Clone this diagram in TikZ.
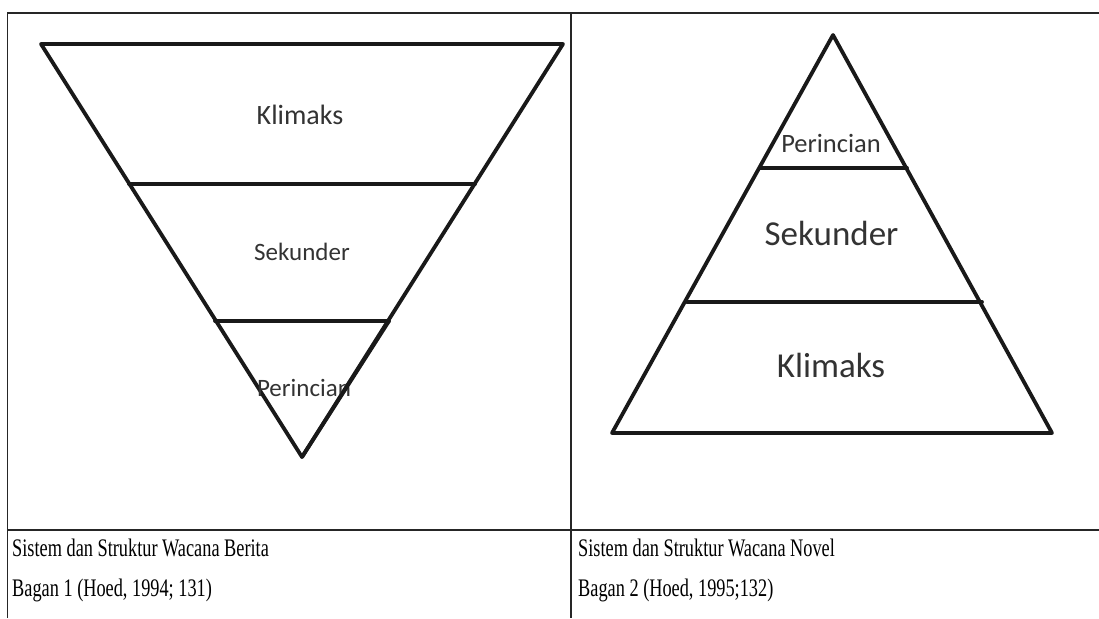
\documentclass[tikz,border=0pt]{standalone}
\usepackage{fontspec}
\setmainfont{Liberation Serif}
\newfontfamily\lblfont{Carlito}
\begin{document}
\begin{tikzpicture}[x=1pt,y=-1pt,
  tri/.style={line width=3.8pt,line join=round,line cap=round,black!90},
  rule/.style={line width=1.8pt,black!85},
  lbl/.style={font=\lblfont,text=black!80,inner sep=0pt,anchor=base},
  captxt/.style={font=\fontsize{18.3}{20}\selectfont,inner sep=0pt,anchor=base west,text=black,yscale=1.38}]
\useasboundingbox (0,0) rectangle (1099,618);
% table rules
\coordinate (tl) at (7.5,13);
\coordinate (tr) at (1099,13);
\coordinate (bl) at (7.5,618);
\coordinate (dt) at (571,13);
\coordinate (db) at (571,618);
\coordinate (hl) at (7.5,530);
\coordinate (hr) at (1099,530);
\draw[rule] (bl) -- (tl) -- (tr);
\draw[rule] (dt) -- (db);
\draw[rule,line width=2.6pt] (hl) -- (hr);
% left inverted triangle
\coordinate (La) at (41,44);
\coordinate (Lb) at (563,44);
\coordinate (Lc) at (302,457);
\coordinate (L1a) at (129,184);
\coordinate (L1b) at (475,184);
\coordinate (L2a) at (215,321);
\coordinate (L2b) at (389,321);
\draw[tri] (La) -- (Lb) -- (Lc) -- cycle;
\draw[tri] (L1a) -- (L1b);
\draw[tri] (L2a) -- (L2b);
\node[lbl,font=\lblfont\fontsize{28}{30}\selectfont] (lk) at (300,124) {Klimaks};
\node[lbl,font=\lblfont\fontsize{25}{27}\selectfont] (ls) at (302,260) {Sekunder};
\node[lbl,font=\lblfont\fontsize{25}{27}\selectfont] (lp) at (304,396) {Perincian};
\draw[tri] (L2b) -- (Lc);
% right triangle
\coordinate (Ra) at (833,35);
\coordinate (Rb) at (1052,433);
\coordinate (Rc) at (612,433);
\coordinate (R1a) at (760,168);
\coordinate (R1b) at (907,168);
\coordinate (R2a) at (687,302);
\coordinate (R2b) at (982,302);
\draw[tri] (Ra) -- (Rb) -- (Rc) -- cycle;
\draw[tri] (R1a) -- (R1b);
\draw[tri] (R2a) -- (R2b);
\node[lbl,font=\lblfont\fontsize{26.5}{28}\selectfont] (rp) at (831,152) {Perincian};
\node[lbl,font=\lblfont\fontsize{35}{37}\selectfont] (rs) at (831.5,245) {Sekunder};
\node[lbl,font=\lblfont\fontsize{35}{37}\selectfont] (rk) at (831,377) {Klimaks};
% captions
\node[captxt] (c1) at (12,556.5) {Sistem dan Struktur Wacana Berita};
\node[captxt] (c2) at (12,596) {Bagan 1 (Hoed, 1994; 131)};
\node[captxt] (c3) at (578,556.5) {Sistem dan Struktur Wacana Novel};
\node[captxt] (c4) at (578,596) {Bagan 2 (Hoed, 1995;132)};
\end{tikzpicture}
\end{document}
